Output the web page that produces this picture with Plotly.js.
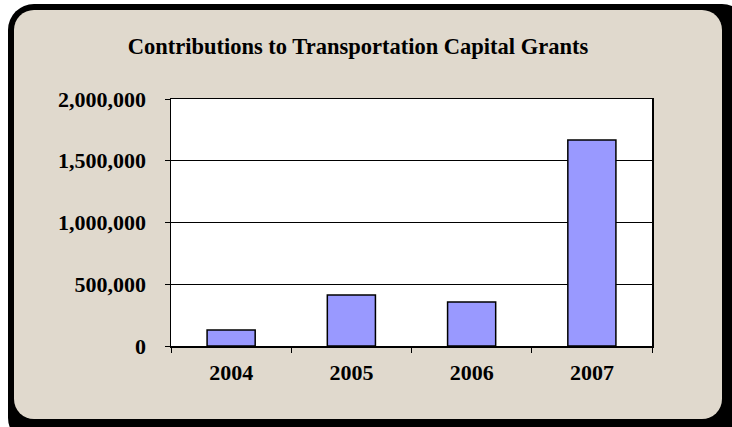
<!DOCTYPE html>
<html>
<head>
<meta charset="utf-8">
<script src="https://cdn.plot.ly/plotly-3.0.1.min.js"></script>
<style>
  html, body { margin: 0; padding: 0; background: #ffffff; overflow: hidden; }
  #frame {
    position: absolute; left: 8px; top: 4px; width: 740px; height: 440px;
    background: #000000; border-radius: 26px;
  }
  #panel {
    position: absolute; left: 14px; top: 10px; width: 708px; height: 409px;
    background: #e0d9cd; border-radius: 20px;
  }
  #graph { position: absolute; left: 0; top: 0; width: 732px; height: 427px; }
</style>
</head>
<body>
<div id="frame"></div>
<div id="panel"></div>
<div id="graph"></div>
<script>
  const years = ['2004', '2005', '2006', '2007'];
  const contributions = [130000, 413000, 356000, 1668000];
  const yTicks = [0, 500000, 1000000, 1500000, 2000000];
  const yTickText = ['0', '500,000', '1,000,000', '1,500,000', '2,000,000'];

  const trace = {
    x: years,
    y: contributions,
    type: 'bar',
    width: 0.4,
    marker: { color: '#9999ff', line: { color: '#000000', width: 1.5 } },
    hoverinfo: 'none'
  };

  const labelFont = { family: 'Liberation Serif, Times New Roman, serif', size: 22, color: '#000000', weight: 'bold' };

  const layout = {
    width: 732,
    height: 427,
    margin: { l: 171, r: 80, t: 99, b: 81 },
    paper_bgcolor: 'rgba(0,0,0,0)',
    plot_bgcolor: '#ffffff',
    showlegend: false,
    title: {
      text: '<b>Contributions to Transportation Capital Grants</b>',
      font: { family: 'Liberation Serif, Times New Roman, serif', size: 22.5, color: '#000000' },
      x: 0.489,
      xanchor: 'center',
      y: 0.892,
      yanchor: 'middle'
    },
    xaxis: {
      type: 'category',
      tickson: 'boundaries',
      ticks: 'outside',
      ticklen: 5,
      tickcolor: '#000000',
      tickfont: labelFont,
      ticklabelstandoff: 6,
      showline: true,
      linecolor: '#000000',
      linewidth: 1.5,
      mirror: true,
      showgrid: false,
      fixedrange: true
    },
    yaxis: {
      range: [0, 2000000],
      tickvals: yTicks,
      ticktext: yTickText,
      ticks: 'outside',
      ticklen: 5,
      tickcolor: '#000000',
      tickfont: labelFont,
      ticklabelstandoff: 14,
      showline: true,
      linecolor: '#000000',
      linewidth: 1.5,
      mirror: true,
      showgrid: true,
      gridcolor: '#000000',
      gridwidth: 1,
      zeroline: false,
      fixedrange: true
    }
  };

  Plotly.newPlot('graph', [trace], layout, { displayModeBar: false, staticPlot: true });
</script>
</body>
</html>
